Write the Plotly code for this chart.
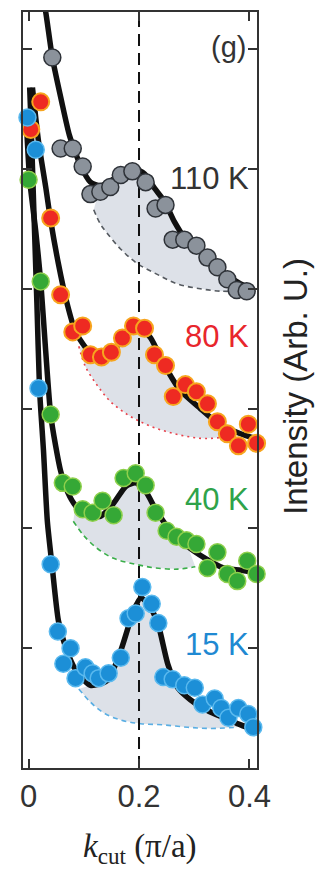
import numpy as np
import plotly.graph_objects as go

# ---------------- data (k_cut in pi/a, intensity in arb. units, offset per temperature) ----------------
# 110 K
k_110 = [0.043, 0.058, 0.080, 0.098, 0.112, 0.130, 0.148, 0.167, 0.188, 0.212, 0.230,
         0.248, 0.261, 0.282, 0.304, 0.324, 0.342, 0.360, 0.377, 0.395, 0.414]
i_110 = [5.93, 5.17, 5.17, 5.02, 4.79, 4.81, 4.85, 4.95, 4.98, 4.89, 4.67,
         4.70, 4.41, 4.41, 4.36, 4.26, 4.18, 4.08, 3.99, 3.98, 4.08]
fit_k_110 = [0.027, 0.031, 0.043, 0.060, 0.074, 0.094, 0.112, 0.130, 0.152, 0.174, 0.192,
             0.210, 0.228, 0.246, 0.264, 0.282, 0.308, 0.335, 0.360, 0.384, 0.407]
fit_i_110 = [6.39, 6.31, 5.93, 5.56, 5.28, 5.03, 4.89, 4.86, 4.91, 4.98, 5.00,
             4.96, 4.84, 4.73, 4.56, 4.43, 4.32, 4.21, 4.11, 4.04, 3.99]
bg_k_110 = [0.118, 0.130, 0.143, 0.167, 0.197, 0.233, 0.270, 0.311, 0.348, 0.384]
bg_i_110 = [4.66, 4.54, 4.46, 4.33, 4.21, 4.12, 4.04, 4.00, 3.98, 3.98]

# 80 K
k_80 = [0.004, 0.022, 0.040, 0.058, 0.080, 0.098, 0.112, 0.132, 0.150, 0.170, 0.190, 0.210,
        0.228, 0.248, 0.262, 0.284, 0.304, 0.324, 0.342, 0.360, 0.380, 0.398, 0.413]
i_80 = [5.33, 5.56, 4.59, 3.95, 3.64, 3.69, 3.45, 3.43, 3.47, 3.59, 3.69, 3.67,
        3.45, 3.36, 3.10, 3.20, 3.14, 3.04, 2.89, 2.79, 2.69, 2.87, 2.71]
fit_k_80 = [0.007, 0.018, 0.031, 0.040, 0.054, 0.069, 0.085, 0.107, 0.130, 0.154, 0.176,
            0.197, 0.221, 0.244, 0.275, 0.311, 0.342, 0.384, 0.411]
fit_i_80 = [5.68, 5.23, 4.85, 4.57, 4.21, 3.89, 3.64, 3.49, 3.44, 3.49, 3.61,
            3.70, 3.59, 3.38, 3.15, 3.00, 2.88, 2.79, 2.75]
bg_k_80 = [0.091, 0.103, 0.125, 0.148, 0.179, 0.212, 0.248, 0.284, 0.320, 0.369]
bg_i_80 = [3.52, 3.35, 3.19, 3.06, 2.95, 2.87, 2.81, 2.77, 2.75, 2.77]

# 40 K
k_40 = [0.000, 0.022, 0.040, 0.062, 0.080, 0.098, 0.116, 0.134, 0.154, 0.172, 0.194, 0.212,
        0.230, 0.250, 0.268, 0.286, 0.304, 0.324, 0.342, 0.360, 0.378, 0.396, 0.413]
i_40 = [4.91, 4.06, 2.95, 2.38, 2.35, 2.16, 2.13, 2.23, 2.11, 2.42, 2.46, 2.36,
        2.13, 1.98, 1.93, 1.90, 1.87, 1.67, 1.80, 1.62, 1.56, 1.73, 1.62]
fit_k_40 = [-0.004, 0.002, 0.013, 0.022, 0.031, 0.040, 0.049, 0.058, 0.071, 0.085, 0.103,
            0.130, 0.154, 0.176, 0.194, 0.212, 0.230, 0.252, 0.288, 0.320, 0.353, 0.384, 0.411]
fit_i_40 = [5.39, 4.91, 4.48, 4.06, 3.48, 2.95, 2.69, 2.48, 2.30, 2.19, 2.12,
            2.10, 2.21, 2.35, 2.38, 2.31, 2.16, 2.01, 1.85, 1.75, 1.67, 1.65, 1.63]
bg_k_40 = [0.081, 0.100, 0.125, 0.154, 0.194, 0.230, 0.270, 0.302]
bg_i_40 = [2.06, 1.94, 1.83, 1.75, 1.70, 1.67, 1.66, 1.68]

# 15 K
k_15 = [-0.002, 0.013, 0.018, 0.040, 0.053, 0.063, 0.076, 0.085, 0.103, 0.116, 0.127, 0.145,
        0.167, 0.181, 0.194, 0.206, 0.223, 0.235, 0.244, 0.261, 0.282, 0.301, 0.315, 0.337,
        0.349, 0.362, 0.380, 0.398, 0.407, 0.415]
i_15 = [5.43, 5.16, 3.17, 1.70, 1.14, 0.87, 1.00, 0.75, 0.84, 0.79, 0.75, 0.79,
        0.92, 1.25, 1.29, 1.51, 1.37, 1.21, 0.76, 0.74, 0.69, 0.67, 0.53, 0.58,
        0.50, 0.42, 0.50, 0.45, 0.34, 0.23]
fit_k_15 = [0.002, 0.005, 0.009, 0.015, 0.020, 0.027, 0.034, 0.043, 0.054, 0.067, 0.085,
            0.112, 0.143, 0.167, 0.190, 0.203, 0.217, 0.234, 0.252, 0.270, 0.293, 0.324,
            0.353, 0.378, 0.407]
fit_i_15 = [5.68, 5.31, 4.73, 3.89, 3.15, 2.65, 2.06, 1.67, 1.23, 1.01, 0.82,
            0.69, 0.73, 0.98, 1.31, 1.42, 1.37, 1.21, 0.87, 0.67, 0.57, 0.48,
            0.42, 0.37, 0.32]
bg_k_15 = [0.091, 0.112, 0.136, 0.167, 0.203, 0.244, 0.288, 0.329, 0.378]
bg_i_15 = [0.66, 0.55, 0.46, 0.40, 0.37, 0.36, 0.34, 0.33, 0.34]

temps = ["110 K", "80 K", "40 K", "15 K"]
label_y = [4.92, 3.60, 2.24, 1.03]
peak_k = 0.2

series = [
    dict(k=k_110, i=i_110, fk=fit_k_110, fi=fit_i_110, bk=bg_k_110, bi=bg_i_110,
         fill="#8b929b", edge="#2e3238", ew=1.5, text="#333333", bgc="#555a60", bgdash="5px,4px"),
    dict(k=k_80, i=i_80, fk=fit_k_80, fi=fit_i_80, bk=bg_k_80, bi=bg_i_80,
         fill="#ee2a22", edge="#f7a51e", ew=2.0, text="#e8262c", bgc="#e8404a", bgdash="2px,4px"),
    dict(k=k_40, i=i_40, fk=fit_k_40, fi=fit_i_40, bk=bg_k_40, bi=bg_i_40,
         fill="#35a836", edge="#8fd04c", ew=1.5, text="#2fa34a", bgc="#3aae4a", bgdash="5px,4px"),
    dict(k=k_15, i=i_15, fk=fit_k_15, fi=fit_i_15, bk=bg_k_15, bi=bg_i_15,
         fill="#1c8fd7", edge="#5ab9ee", ew=1.5, text="#1f89d2", bgc="#5aaee3", bgdash="5px,4px"),
]

fig = go.Figure()

# shaded peak area between background and fit
for s in series:
    fk = np.array(s["fk"]); fi = np.array(s["fi"])
    lo, hi = s["bk"][0], s["bk"][-1]
    m = (fk > lo) & (fk < hi)
    px = list(s["bk"]) + list(fk[m][::-1])
    py = list(s["bi"]) + list(fi[m][::-1])
    fig.add_trace(go.Scatter(x=px, y=py, mode="lines", fill="toself",
                             fillcolor="#dde1e8", line=dict(width=0),
                             hoverinfo="skip", showlegend=False))

# background curves
for s in series:
    fig.add_trace(go.Scatter(x=s["bk"], y=s["bi"], mode="lines",
                             line=dict(color=s["bgc"], width=1.6, dash=s["bgdash"], shape="spline"),
                             showlegend=False))

# marker line at the peak position
fig.add_trace(go.Scatter(x=[peak_k, peak_k], y=[0, 6.31], mode="lines",
                         line=dict(color="#111111", width=2, dash="12px,7px"),
                         showlegend=False))

# fit curves
for s in series:
    fig.add_trace(go.Scatter(x=s["fk"], y=s["fi"], mode="lines",
                             line=dict(color="#111111", width=5.5, shape="spline", smoothing=0.6),
                             showlegend=False))

# data points
for s in series:
    fig.add_trace(go.Scatter(x=s["k"], y=s["i"], mode="markers", cliponaxis=False,
                             marker=dict(size=17, color=s["fill"],
                                         line=dict(color=s["edge"], width=s["ew"])),
                             showlegend=False))

sans = "Liberation Sans, Arial, sans-serif"
for t, y, s in zip(temps, label_y, series):
    fig.add_annotation(x=0.402, y=y, xref="x", yref="y", text=t, showarrow=False,
                       xanchor="right", yanchor="middle",
                       font=dict(family=sans, size=31, color=s["text"]))

fig.add_annotation(x=0.397, y=6.02, xref="x", yref="y", text="(g)", showarrow=False,
                   xanchor="right", yanchor="middle",
                   font=dict(family=sans, size=29, color="#333333"))

fig.add_annotation(x=1.165, y=0.505, xref="paper", yref="paper",
                   text="Intensity (Arb. U.)", textangle=-90, showarrow=False,
                   xanchor="center", yanchor="middle",
                   font=dict(family=sans, size=33, color="#222222"))

fig.add_annotation(x=0.5, y=-0.106, xref="paper", yref="paper",
                   text="<i>k</i><sub>cut</sub> (π/a)", showarrow=False,
                   xanchor="center", yanchor="middle",
                   font=dict(family="Liberation Serif, Times New Roman, serif", size=33, color="#222222"))

axis_common = dict(showline=True, linecolor="#333333", linewidth=2, mirror="ticks",
                   ticks="inside", ticklen=9, tickwidth=2, tickcolor="#333333",
                   showgrid=False, zeroline=False)

fig.update_layout(
    width=320, height=875,
    margin=dict(l=23, r=63, t=10, b=107),
    paper_bgcolor="white", plot_bgcolor="white",
    xaxis=dict(range=[-0.0101, 0.4137], tickvals=[0, 0.2, 0.4], ticktext=["0", "0.2", "0.4"],
               tickfont=dict(family=sans, size=31, color="#333333"), **axis_common),
    yaxis=dict(range=[0, 6.31], tickvals=[1, 2, 3, 4, 5, 6], showticklabels=False, **axis_common),
)

fig.write_html("out.html")
